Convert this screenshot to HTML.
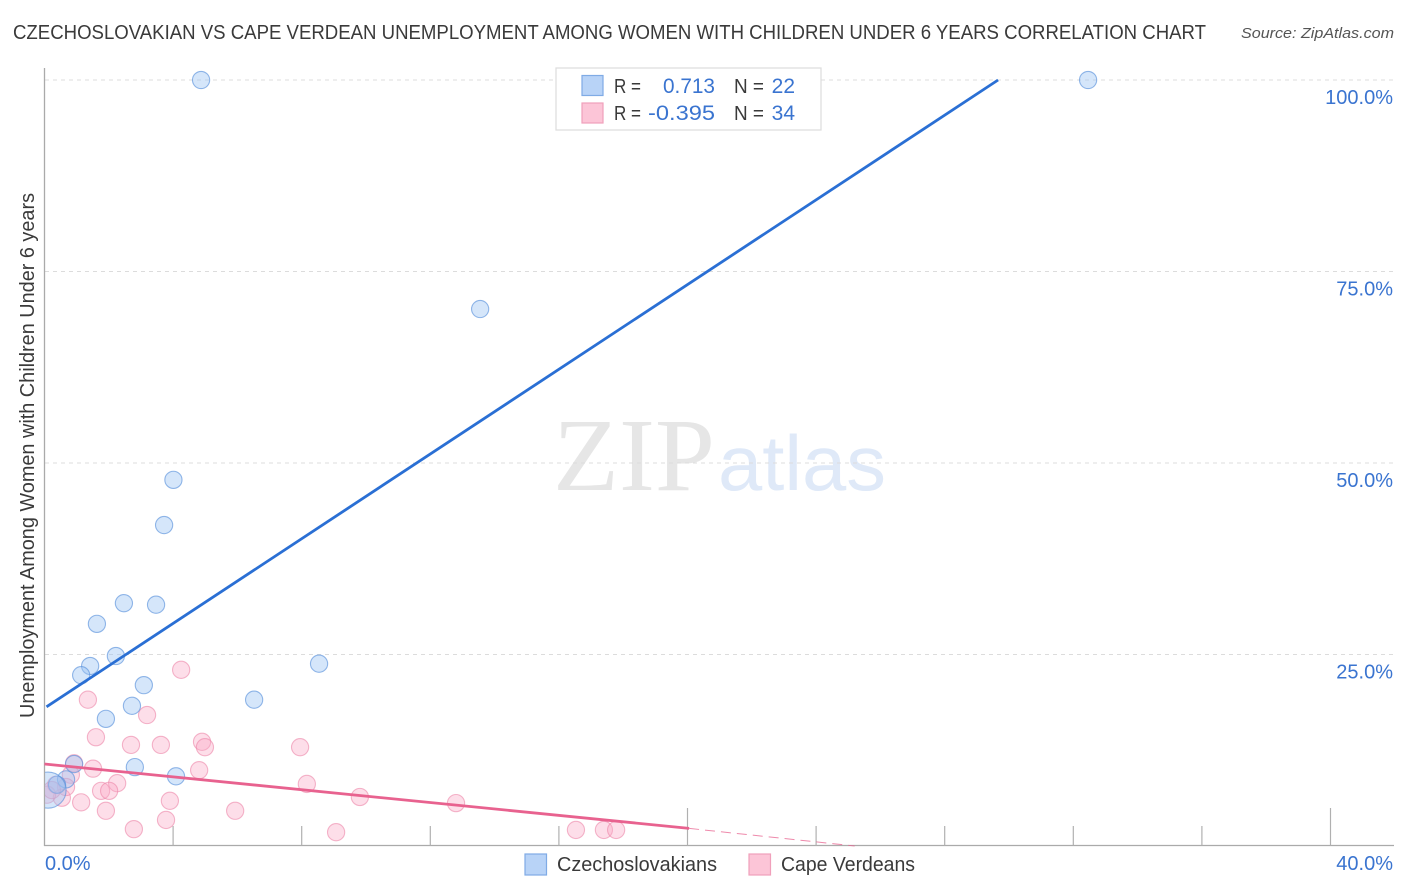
<!DOCTYPE html>
<html lang="en">
<head>
<meta charset="utf-8">
<title>Czechoslovakian vs Cape Verdean Unemployment Correlation Chart</title>
<style>
html,body{margin:0;padding:0;background:#fff;}
body{width:1406px;height:892px;overflow:hidden;}
svg{display:block;font-family:"Liberation Sans",sans-serif;}
</style>
</head>
<body>
<svg id="chart" xmlns="http://www.w3.org/2000/svg" width="1406" height="892" viewBox="0 0 1406 892">
  <defs>
    <clipPath id="plot-clip"><rect x="45" y="60" width="1350" height="785"></rect></clipPath>
  </defs>
  <rect x="0" y="0" width="1406" height="892" fill="#ffffff"></rect>
  <text x="13" y="39" font-size="20" fill="#3a3a3a" textLength="1193" lengthAdjust="spacingAndGlyphs">CZECHOSLOVAKIAN VS CAPE VERDEAN UNEMPLOYMENT AMONG WOMEN WITH CHILDREN UNDER 6 YEARS CORRELATION CHART</text>
  <text x="1241" y="38" font-size="15" font-style="italic" fill="#555" textLength="153" lengthAdjust="spacingAndGlyphs">Source: ZipAtlas.com</text>
  <g>
    <text x="553" y="490" font-family="'Liberation Serif',serif" font-size="104" fill="#e6e6e6" textLength="162" lengthAdjust="spacingAndGlyphs">ZIP</text>
    <text x="718" y="490" font-size="78" fill="#dfe9f8" textLength="168" lengthAdjust="spacingAndGlyphs">atlas</text>
  </g>
  <g id="grid"></g>
  <g id="axes"></g>
  <g id="points" clip-path="url(#plot-clip)"></g>
  <g id="trends"></g>
  <text transform="translate(34,718) rotate(-90)" font-size="20" fill="#3a3a3a" textLength="525" lengthAdjust="spacingAndGlyphs">Unemployment Among Women with Children Under 6 years</text>
  <g>
    <rect x="556" y="68" width="265" height="62" fill="#fff" stroke="#dcdcdc" stroke-width="1.2"></rect>
    <rect x="582" y="75.500" width="21" height="20" fill="#b8d3f7" stroke="#7fabe5" stroke-width="1.2"></rect>
    <rect x="582" y="103" width="21" height="20" fill="#fcc5d7" stroke="#f0a0bb" stroke-width="1.2"></rect>
    <text x="614" y="93" font-size="20" fill="#3a3a3a" textLength="27" lengthAdjust="spacingAndGlyphs">R =</text>
    <text x="663" y="93" font-size="21" fill="#3a74d0" textLength="52" lengthAdjust="spacingAndGlyphs">0.713</text>
    <text x="734" y="93" font-size="20" fill="#3a3a3a" textLength="30" lengthAdjust="spacingAndGlyphs">N =</text>
    <text x="795" y="93" font-size="21" fill="#3a74d0" text-anchor="end">22</text>
    <text x="614" y="120" font-size="20" fill="#3a3a3a" textLength="27" lengthAdjust="spacingAndGlyphs">R =</text>
    <text x="648" y="120" font-size="21" fill="#3a74d0" textLength="67" lengthAdjust="spacingAndGlyphs">-0.395</text>
    <text x="734" y="120" font-size="20" fill="#3a3a3a" textLength="30" lengthAdjust="spacingAndGlyphs">N =</text>
    <text x="795" y="120" font-size="21" fill="#3a74d0" text-anchor="end">34</text>
  </g>
  <g>
    <g>
      <rect x="525" y="854" width="21.500" height="21" fill="#b8d3f7" stroke="#7fabe5" stroke-width="1.2"></rect>
      <text x="557" y="871" font-size="20" fill="#3a3a3a" textLength="160" lengthAdjust="spacingAndGlyphs">Czechoslovakians</text>
    </g>
    <g>
      <rect x="749" y="854" width="21.500" height="21" fill="#fcc5d7" stroke="#f0a0bb" stroke-width="1.2"></rect>
      <text x="781" y="871" font-size="20" fill="#3a3a3a" textLength="134" lengthAdjust="spacingAndGlyphs">Cape Verdeans</text>
    </g>
  </g>
</svg>
<script>
const xTickValues = [4, 8, 12, 16, 20, 24, 28, 32, 36, 40];
const xMajorTicks = [20, 40];
const xEdgeLabels = ["0.0%", "40.0%"];
const yTickValues = [25, 50, 75, 100];
const yTickLabels = ["25.0%", "50.0%", "75.0%", "100.0%"];

const blueX = [4.87, 32.46, 13.55, 4.01, 3.72, 2.47, 3.47, 1.63, 2.22, 1.42, 1.14, 3.09, 6.52, 2.72, 1.91, 8.54, 0.92, 2.81, 4.09, 0.67, 0.39, 0.11];
const blueY = [100, 100, 70.1, 47.8, 41.9, 31.7, 31.5, 29.0, 24.8, 23.5, 22.3, 21.0, 19.1, 18.3, 16.6, 23.8, 10.7, 10.3, 9.1, 8.7, 8.0, 7.3];
const blueWeight = [1, 1, 1, 1, 1, 1, 1, 1, 1, 1, 1, 1, 1, 1, 1, 1, 1, 1, 1, 1, 1, 2.1];

const pinkX = [4.25, 1.35, 3.19, 1.60, 2.69, 3.62, 4.90, 4.99, 7.95, 1.51, 0.92, 4.81, 2.26, 8.16, 9.81, 1.76, 2.01, 3.90, 1.14, 0.54, 1.91, 5.93, 3.78, 2.78, 9.07, 12.8, 16.53, 17.4, 17.78, 0.82, 0.67, 0.36, 0.08, 0.23];
const pinkY = [23.0, 19.1, 17.1, 14.2, 13.2, 13.2, 13.6, 12.9, 12.9, 10.1, 10.8, 9.9, 8.2, 8.1, 6.4, 7.2, 7.2, 5.9, 5.7, 6.3, 4.6, 4.6, 3.4, 2.2, 1.8, 5.6, 2.1, 2.1, 2.1, 9.3, 7.7, 8.0, 6.7, 7.3];

const blueTrendX = [0, 29.66];
const blueTrendY = [18.0, 100];
const pinkTrendX = [0, 20.05];
const pinkTrendY = [10.7, 2.3];
const pinkDashX = [20.05, 25.2];
const pinkDashY = [2.3, 0];

const NS = "http://www.w3.org/2000/svg";
function xPos(v) { return 44.5 + v * 32.15; }
function yPos(v) { return 846 - v * 7.66; }
function make(tag, attrs, parent) {
  const el = document.createElementNS(NS, tag);
  Object.keys(attrs).forEach(function (k) { el.setAttribute(k, attrs[k]); });
  parent.appendChild(el);
  return el;
}

const grid = document.getElementById("grid");
const axes = document.getElementById("axes");
const points = document.getElementById("points");
const trends = document.getElementById("trends");

yTickValues.forEach(function (v, i) {
  const line = make("line", { x1: 45, x2: 1394, y1: yPos(v), y2: yPos(v), stroke: "#dcdcdc", "stroke-width": 1, "stroke-dasharray": "4 4" }, grid);
  
  
  const label = make("text", { x: 1393, y: yPos(v) + 24, "text-anchor": "end", "font-size": 20, fill: "#3a74d0" }, axes);
  label.textContent = yTickLabels[i];
  
  
});

const yAxis = make("line", { x1: 44.5, x2: 44.5, y1: 68, y2: 846, stroke: "#aaaaaa", "stroke-width": 1.3 }, axes);


const xAxis = make("line", { x1: 44, x2: 1394, y1: 845.5, y2: 845.5, stroke: "#aaaaaa", "stroke-width": 1.3 }, axes);



xTickValues.forEach(function (v) {
  const tall = xMajorTicks.indexOf(v) >= 0;
  const tick = make("line", { x1: xPos(v), x2: xPos(v), y1: tall ? 808 : 826, y2: 845.5, stroke: "#b0b0b0", "stroke-width": 1.2 }, axes);
  
  
});

const xLabelStart = make("text", { x: 45, y: 870, "font-size": 20, fill: "#3a74d0" }, axes);
xLabelStart.textContent = xEdgeLabels[0];


const xLabelEnd = make("text", { x: 1393, y: 870, "font-size": 20, fill: "#3a74d0", "text-anchor": "end" }, axes);
xLabelEnd.textContent = xEdgeLabels[1];



pinkX.forEach(function (v, i) {
  const dot = make("circle", { cx: xPos(v), cy: yPos(pinkY[i]), r: 8.6, fill: "#f9a8c4", "fill-opacity": 0.38, stroke: "#ec86a9", "stroke-opacity": 0.6, "stroke-width": 1.1 }, points);
  
  
});
blueX.forEach(function (v, i) {
  const dot = make("circle", { cx: xPos(v), cy: yPos(blueY[i]), r: 8.6 * blueWeight[i], fill: "#9cc3f3", "fill-opacity": 0.42, stroke: "#5a92dc", "stroke-opacity": 0.65, "stroke-width": 1.1 }, points);
  
  
});

const blueLine = make("line", { x1: xPos(blueTrendX[0]) + 2, y1: yPos(blueTrendY[0]) - 1.3, x2: xPos(blueTrendX[1]), y2: yPos(blueTrendY[1]), stroke: "#2a6fd4", "stroke-width": 2.8 }, trends);


const pinkLine = make("line", { x1: xPos(pinkTrendX[0]), y1: yPos(pinkTrendY[0]), x2: xPos(pinkTrendX[1]), y2: yPos(pinkTrendY[1]), stroke: "#e8628f", "stroke-width": 2.8 }, trends);


const pinkDash = make("line", { x1: xPos(pinkDashX[0]), y1: yPos(pinkDashY[0]), x2: xPos(pinkDashX[1]), y2: yPos(pinkDashY[1]), stroke: "#e8628f", "stroke-opacity": 0.75, "stroke-width": 1, "stroke-dasharray": "10 6" }, trends);


</script>
</body>
</html>
